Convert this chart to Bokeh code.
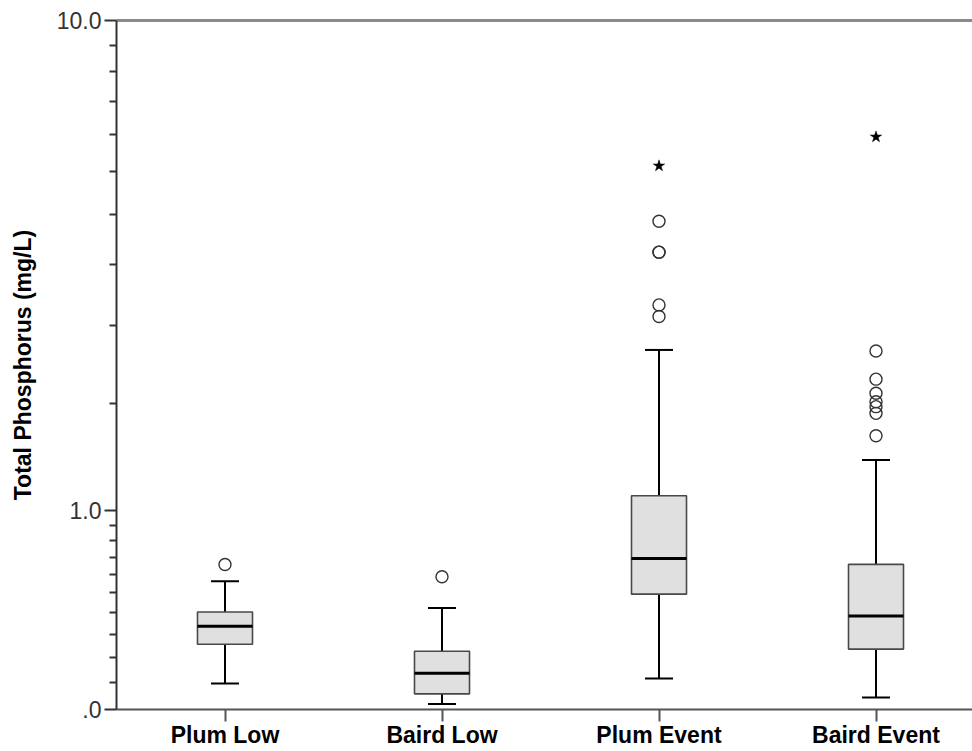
import numpy as np
from bokeh.plotting import figure
from bokeh.models import (ColumnDataSource, Range1d, FixedTicker,
                          CustomJSTickFormatter, LinearAxis)
from bokeh.embed import file_html
from bokeh.resources import INLINE

# ---------------- data (mg/L) ----------------
categories = ["Plum Low", "Baird Low", "Plum Event", "Baird Event"]
whisker_low = [0.095, 0.019, 0.114, 0.043]
q1 = [0.255, 0.056, 0.494, 0.234]
median = [0.336, 0.134, 0.692, 0.385]
q3 = [0.404, 0.225, 1.104, 0.657]
whisker_high = [0.562, 0.424, 2.495, 1.383]

outlier_group = [1, 2, 3, 3, 3, 3, 3, 4, 4, 4, 4, 4, 4, 4]
outlier_value = [0.656, 0.587, 2.926, 3.088, 3.912, 3.912, 4.47,
                 1.593, 1.803, 1.869, 1.919, 2.006, 2.157, 2.483]
extreme_group = [3, 4]
extreme_value = [5.633, 6.336]

y_tick_values = [0.0, 1.0, 10.0]
y_tick_labels = [".0", "1.0", "10.0"]
y_minor_values = [0.1, 0.2, 0.3, 0.4, 0.5, 0.6, 0.7, 0.8, 0.9,
                  1.9, 2.8, 3.7, 4.6, 5.5, 6.4, 7.3, 8.2, 9.1]


def t(v):
    """SPSS 'safe log' scale: log10(1 + x)."""
    return np.log10(1.0 + np.asarray(v, dtype=float))


positions = np.arange(1, len(categories) + 1, dtype=float)
box_w = 0.2535

src = ColumnDataSource(dict(
    x=positions, q1=t(q1), q3=t(q3), med=t(median),
    lo=t(whisker_low), hi=t(whisker_high),
    x0=positions - box_w / 2, x1=positions + box_w / 2,
))

p = figure(width=972, height=751,
           x_range=Range1d(0.5, 0.5 + 856 / 217.0),
           y_range=Range1d(0, float(t(10.0))),
           output_backend="svg", toolbar_location=None,
           min_border_left=116, min_border_right=0,
           min_border_top=20, min_border_bottom=42)
p.outline_line_color = None
p.xgrid.visible = False
p.ygrid.visible = False
p.background_fill_color = "white"

# whiskers
p.segment(x0="x", x1="x", y0="q3", y1="hi", line_color="black", line_width=2, source=src)
p.segment(x0="x", x1="x", y0="lo", y1="q1", line_color="black", line_width=2, source=src)
p.scatter(x="x", y="hi", marker="dash", size=28, line_color="black", line_width=2, source=src)
p.scatter(x="x", y="lo", marker="dash", size=28, line_color="black", line_width=2, source=src)
# boxes
p.vbar(x="x", width=box_w, bottom="q1", top="q3", fill_color="#e0e0e0",
       line_color="#484848", line_width=1.6, source=src)
# medians
p.segment(x0="x0", x1="x1", y0="med", y1="med", line_color="black", line_width=3, source=src)

# outliers
p.scatter(x=np.asarray(outlier_group, dtype=float), y=t(outlier_value), marker="circle",
          size=12, fill_color="white", fill_alpha=0.0, line_color="#333333", line_width=1.4)
p.scatter(x=np.asarray(extreme_group, dtype=float), y=t(extreme_value), marker="star",
          size=12, fill_color="black", line_color="black", line_width=0.5)

# y axis
yax = p.yaxis[0]
yax.ticker = FixedTicker(ticks=list(t(y_tick_values)), minor_ticks=list(t(y_minor_values)))
yax.formatter = CustomJSTickFormatter(
    args=dict(tv=list(t(y_tick_values)), tl=y_tick_labels),
    code="""
let b = 0;
for (let i = 0; i < tv.length; i++) { if (Math.abs(tv[i]-tick) < Math.abs(tv[b]-tick)) b = i; }
return tl[b];
""")
yax.axis_label = "Total Phosphorus (mg/L)"
yax.axis_label_text_font = "Liberation Sans"
yax.axis_label_text_font_style = "bold"
yax.axis_label_text_font_size = "23px"
yax.axis_label_text_color = "black"
yax.axis_label_standoff = 18
yax.major_label_text_font = "Liberation Sans"
yax.major_label_text_font_size = "23px"
yax.major_label_text_color = "#333333"
yax.major_label_standoff = 3
yax.axis_line_color = "#333333"
yax.axis_line_width = 2
yax.major_tick_line_color = "#333333"
yax.major_tick_line_width = 2
yax.major_tick_out = 12
yax.major_tick_in = 0
yax.minor_tick_line_color = "#333333"
yax.minor_tick_line_width = 2
yax.minor_tick_out = 7
yax.minor_tick_in = 0

# x axis
xax = p.xaxis[0]
xax.ticker = FixedTicker(ticks=list(positions))
xax.formatter = CustomJSTickFormatter(
    args=dict(tv=list(positions), tl=categories),
    code="""
let b = 0;
for (let i = 0; i < tv.length; i++) { if (Math.abs(tv[i]-tick) < Math.abs(tv[b]-tick)) b = i; }
return tl[b];
""")
xax.major_label_text_font = "Liberation Sans"
xax.major_label_text_font_style = "bold"
xax.major_label_text_font_size = "23px"
xax.major_label_text_color = "black"
xax.major_label_standoff = 0
xax.axis_line_color = "#555555"
xax.axis_line_width = 2
xax.major_tick_line_color = "#555555"
xax.major_tick_line_width = 2
xax.major_tick_out = 12
xax.major_tick_in = 0
xax.minor_tick_line_color = None

# top border line
top = LinearAxis(ticker=FixedTicker(ticks=[]), axis_line_color="#8a8a8a", axis_line_width=3,
                 major_tick_line_color=None, minor_tick_line_color=None,
                 major_label_text_font_size="0px", major_label_standoff=0)
p.add_layout(top, "above")

open("out.html", "w").write(file_html(p, INLINE))
